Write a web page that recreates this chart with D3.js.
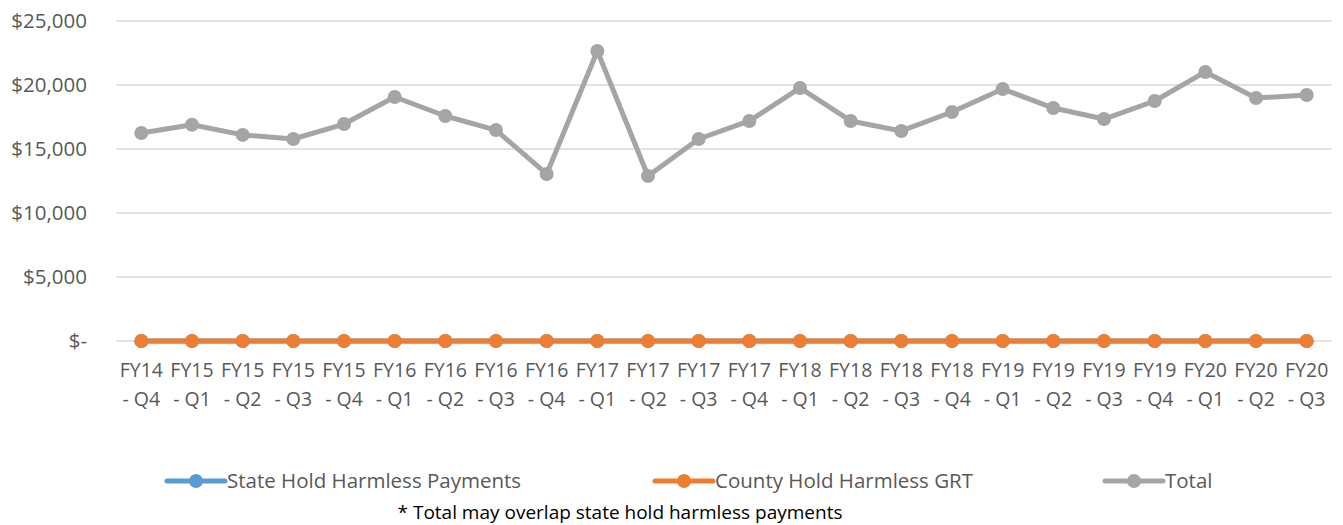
<!DOCTYPE html>
<html>
<head>
<meta charset="utf-8">
<script src="https://cdn.jsdelivr.net/npm/d3@7"></script>
<style>
  body { margin: 0; background: #fff; }
  text { font-family: "Open Sans", "Noto Sans", sans-serif; }
</style>
</head>
<body>
<div id="chart"></div>
<script>
const quarters = ["FY14 - Q4", "FY15 - Q1", "FY15 - Q2", "FY15 - Q3", "FY15 - Q4", "FY16 - Q1", "FY16 - Q2", "FY16 - Q3",
  "FY16 - Q4", "FY17 - Q1", "FY17 - Q2", "FY17 - Q3", "FY17 - Q4", "FY18 - Q1", "FY18 - Q2", "FY18 - Q3",
  "FY18 - Q4", "FY19 - Q1", "FY19 - Q2", "FY19 - Q3", "FY19 - Q4", "FY20 - Q1", "FY20 - Q2", "FY20 - Q3"];
const stateHoldHarmless = [0, 0, 0, 0, 0, 0, 0, 0, 0, 0, 0, 0, 0, 0, 0, 0, 0, 0, 0, 0, 0, 0, 0, 0];
const countyHoldHarmless = [0, 0, 0, 0, 0, 0, 0, 0, 0, 0, 0, 0, 0, 0, 0, 0, 0, 0, 0, 0, 0, 0, 0, 0];
const total = [16250, 16900, 16100, 15780, 16950, 19060, 17580, 16480, 13050, 22660, 12890, 15780,
  17190, 19770, 17190, 16410, 17890, 19690, 18200, 17340, 18750, 21020, 18980, 19220];
const yTicks = [0, 5000, 10000, 15000, 20000, 25000];
const seriesNames = ["State Hold Harmless Payments", "County Hold Harmless GRT", "Total"];
const colors = ["#5B9BD5", "#ED7D31", "#A5A5A5"];

const W = 1343, H = 525;
const margin = {left: 116, right: 11, top: 21, bottom: 184};

const svg = d3.select("#chart").append("svg")
  .attr("width", W).attr("height", H);

const x = d3.scaleBand()
  .domain(quarters)
  .range([margin.left, W - margin.right]);

const y = d3.scaleLinear()
  .domain([0, 25000])
  .range([H - margin.bottom, margin.top]);

// gridlines
svg.append("g")
  .selectAll("line")
  .data(yTicks)
  .join("line")
    .attr("x1", margin.left)
    .attr("x2", W - margin.right)
    .attr("y1", d => y(d))
    .attr("y2", d => y(d))
    .attr("stroke", "#D9D9D9")
    .attr("stroke-width", 1.3);

// y labels
svg.append("g")
  .selectAll("text")
  .data(yTicks)
  .join("text")
    .attr("x", 87)
    .attr("y", d => y(d))
    .attr("dy", "0.35em")
    .attr("text-anchor", "end")
    .attr("fill", "#595959")
    .style("font-size", "20.5px")
    .text(d => d === 0 ? "$-" : "$" + d3.format(",")(d));

// x labels (two lines)
const xl = svg.append("g")
  .selectAll("text")
  .data(quarters)
  .join("text")
    .attr("text-anchor", "middle")
    .attr("fill", "#595959")
    .style("font-size", "19.5px");
xl.append("tspan")
  .attr("x", d => x(d) + x.bandwidth() / 2)
  .attr("y", 377)
  .text(d => d.split(" - ")[0]);
xl.append("tspan")
  .attr("x", d => x(d) + x.bandwidth() / 2)
  .attr("y", 406)
  .text(d => "- " + d.split(" - ")[1]);

const allSeries = [stateHoldHarmless, countyHoldHarmless, total];
const line = d3.line()
  .x((d, i) => x(quarters[i]) + x.bandwidth() / 2)
  .y(d => y(d));

allSeries.forEach((s, k) => {
  const g = svg.append("g");
  g.append("path")
    .datum(s)
    .attr("d", line)
    .attr("fill", "none")
    .attr("stroke", colors[k])
    .attr("stroke-width", 5)
    .attr("stroke-linejoin", "round");
  g.selectAll("circle")
    .data(s)
    .join("circle")
      .attr("cx", (d, i) => x(quarters[i]) + x.bandwidth() / 2)
      .attr("cy", d => y(d))
      .attr("r", 7)
      .attr("fill", colors[k]);
});

// legend
const legendX = [167, 655, 1105];
const legend = svg.append("g")
  .selectAll("g")
  .data(seriesNames)
  .join("g")
    .attr("transform", (d, i) => `translate(${legendX[i]},481)`);
legend.append("line")
  .attr("x1", 0).attr("x2", 58)
  .attr("stroke", (d, i) => colors[i])
  .attr("stroke-width", 5)
  .attr("stroke-linecap", "round");
legend.append("circle")
  .attr("cx", 29).attr("r", 7)
  .attr("fill", (d, i) => colors[i]);
legend.append("text")
  .attr("x", 60)
  .attr("dy", "0.35em")
  .attr("fill", "#595959")
  .style("font-size", "20.5px")
  .text(d => d);

svg.append("text")
  .attr("x", 620)
  .attr("y", 519)
  .attr("text-anchor", "middle")
  .attr("fill", "#000")
  .style("font-size", "19px")
  .text("* Total may overlap state hold harmless payments");
</script>
</body>
</html>
